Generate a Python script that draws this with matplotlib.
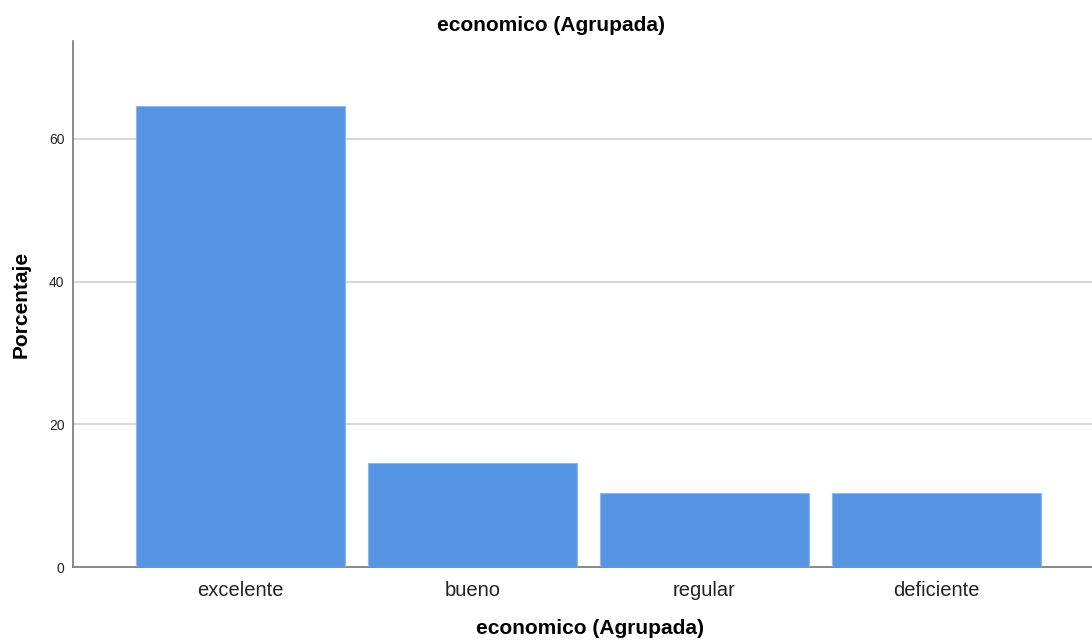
import matplotlib
matplotlib.use("Agg")
import matplotlib.pyplot as plt

categories = ["excelente", "bueno", "regular", "deficiente"]
porcentaje = [64.6, 14.6, 10.4, 10.4]
y_ticks = [0, 20, 40, 60]

plt.rcParams['font.family'] = ['Liberation Sans', 'DejaVu Sans']

fig = plt.figure(figsize=(10.92, 6.42), dpi=100)
ax = fig.add_axes([0.0668, 0.1168, 0.943, 0.8193])

x = range(len(categories))
ax.bar(x, porcentaje, width=0.9, color="#5595e3", edgecolor="#8fb8ec", linewidth=0.8, zorder=3)

ax.set_xlim(-0.722, 3.718)
ax.set_ylim(0, 73.7)
ax.set_yticks(y_ticks)
ax.set_xticks(list(x))
ax.set_xticklabels(categories, fontsize=14.5, color="#222222")
ax.tick_params(axis="y", labelsize=10, length=0, pad=6, labelcolor="#222222")
ax.tick_params(axis="x", length=0, pad=10)
ax.grid(axis="y", color="#cfcfcf", linewidth=1.2, zorder=0)

for side in ["top", "right"]:
    ax.spines[side].set_visible(False)
ax.spines["left"].set_color("#777777")
ax.spines["bottom"].set_color("#777777")
ax.spines["left"].set_linewidth(1.2)
ax.spines["bottom"].set_linewidth(1.2)

ax.set_ylabel("Porcentaje", fontsize=15, fontweight="bold", labelpad=13)
# x label placed by hand so it sits close to the bottom edge like the original
fig.text(0.54, 0.021, "economico (Agrupada)", ha="center", va="center", fontsize=15, fontweight="bold")
fig.text(0.505, 0.961, "economico (Agrupada)", ha="center", va="center", fontsize=15, fontweight="bold")

fig.savefig("out.png", dpi=100)
